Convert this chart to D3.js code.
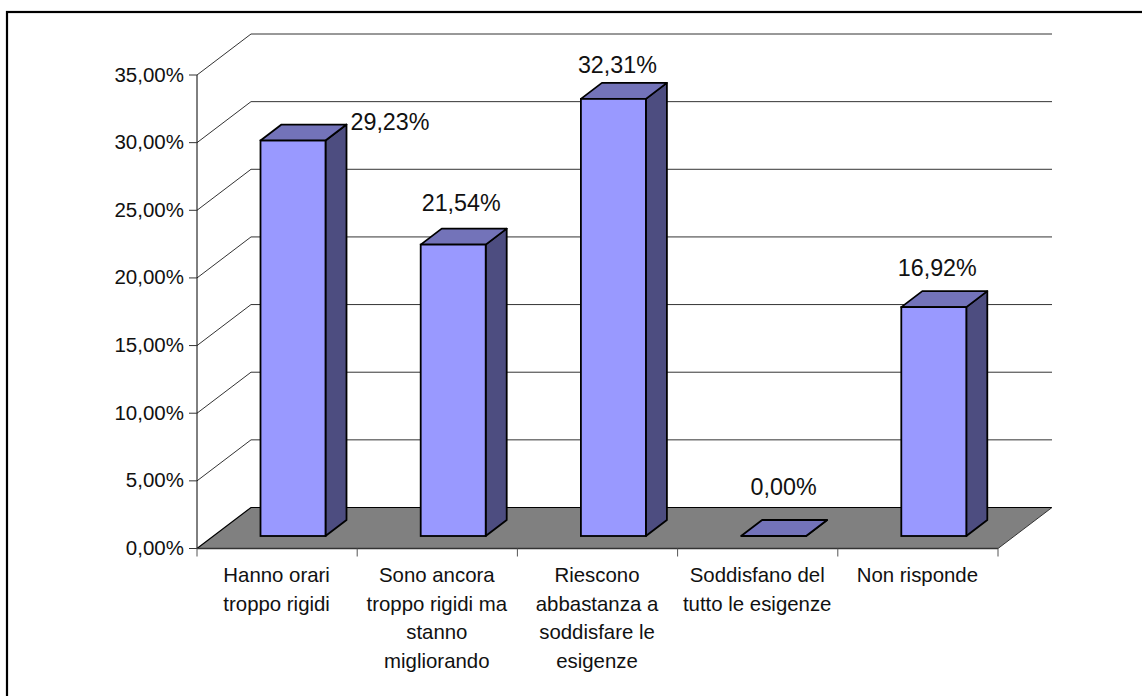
<!DOCTYPE html>
<html><head><meta charset="utf-8">
<script src="https://cdn.jsdelivr.net/npm/d3@7"></script>
<style>html,body{margin:0;padding:0;background:#fff;overflow:hidden}svg{display:block}text{font-family:"Liberation Sans",Arial,sans-serif;fill:#111}</style>
</head><body><svg id="c" width="1142" height="696"></svg>
<script>
const categories=[["Hanno orari","troppo rigidi"],["Sono ancora","troppo rigidi ma","stanno","migliorando"],["Riescono","abbastanza a","soddisfare le","esigenze"],["Soddisfano del","tutto le esigenze"],["Non risponde"]];
const values=[29.23,21.54,32.31,0,16.92];
const valueLabels=["29,23%","21,54%","32,31%","0,00%","16,92%"];
const ticks=[0,5,10,15,20,25,30,35];
const labelShift=[[97,-10.5],[8,-33.5],[4,-26],[10,-41],[3.5,-31]];
const svg=d3.select("#c");
svg.append("rect").attr("x",7).attr("y",12).attr("width",1160).attr("height",720).attr("fill","#fff").attr("stroke","#000").attr("stroke-width",2.2);
const y=d3.scaleLinear().domain([0,35]).range([548.5,75]);
const x=d3.scaleBand().domain(d3.range(5)).range([197,998]);
const dX=54,dY=41,bX=21,bY=16,barW=65,base=536;
const g=svg.append("g");
g.selectAll(".grid").data(ticks.filter(t=>t>0)).join("path").attr("fill","none").attr("stroke","#333").attr("stroke-width",1)
 .attr("d",t=>`M197,${y(t)}l${dX},${-dY}H${998+dX}`);
g.append("path").attr("d",`M197,${y(0)}l${dX},${-dY}H${998+dX}L998,${y(0)}Z`).attr("fill","#808080");
g.append("path").attr("d",`M197,${y(0)}l${dX},${-dY}H${998+dX}`).attr("fill","none").attr("stroke","#000").attr("stroke-width",1.2);
g.append("path").attr("d",`M998,${y(0)}l${dX},${-dY}`).attr("fill","none").attr("stroke","#333");
g.append("line").attr("x1",197).attr("x2",197).attr("y1",y(35)).attr("y2",y(0)).attr("stroke","#000");
g.append("line").attr("x1",197).attr("x2",998).attr("y1",y(0)).attr("y2",y(0)).attr("stroke","#333").attr("stroke-width",1.5);
g.selectAll(".ty").data(ticks).join("line").attr("x1",189).attr("x2",197).attr("y1",d=>y(d)).attr("y2",d=>y(d)).attr("stroke","#333");
g.selectAll(".tx").data(d3.range(6)).join("line").attr("x1",d=>197+d*x.bandwidth()).attr("x2",d=>197+d*x.bandwidth()).attr("y1",y(0)).attr("y2",y(0)+8).attr("stroke","#555");
g.selectAll(".yl").data(ticks).join("text").attr("x",184).attr("y",d=>y(d)+6.5).attr("text-anchor","end").attr("font-size",20.5)
 .text(d=>d3.format(".2f")(d).replace(".",",")+"%");
const h=d=>y(0)-y(d);
const bars=g.selectAll(".bar").data(values).join("g");
const bx=i=>x(i)+63.5;
bars.append("path").attr("fill","#4d4d80").attr("stroke","#000").attr("stroke-width",1.8).attr("stroke-linejoin","round")
 .attr("d",(d,i)=>`M${bx(i)+barW},${base}v${-h(d)}l${bX},${-bY}v${h(d)}Z`);
bars.append("path").attr("fill","#7373b9").attr("stroke","#000").attr("stroke-width",1.8).attr("stroke-linejoin","round")
 .attr("d",(d,i)=>`M${bx(i)},${base-h(d)}h${barW}l${bX},${-bY}h${-barW}Z`);
bars.append("rect").attr("fill","#9999ff").attr("stroke","#000").attr("stroke-width",1.8)
 .attr("x",(d,i)=>bx(i)).attr("y",d=>base-h(d)).attr("width",barW).attr("height",h);
bars.append("text").attr("font-size",23.3).attr("text-anchor","middle")
 .attr("x",(d,i)=>bx(i)+barW/2+labelShift[i][0]).attr("y",(d,i)=>base-h(d)+labelShift[i][1]).text((d,i)=>valueLabels[i]);
const cl=g.selectAll(".cat").data(categories).join("text").attr("font-size",20.4).attr("text-anchor","middle")
 .attr("transform",(d,i)=>`translate(${x(i)+x.bandwidth()/2-0.5},582)`);
cl.selectAll("tspan").data(d=>d).join("tspan").attr("x",0).attr("y",(d,i)=>i*28.7).text(d=>d);
</script></body></html>
